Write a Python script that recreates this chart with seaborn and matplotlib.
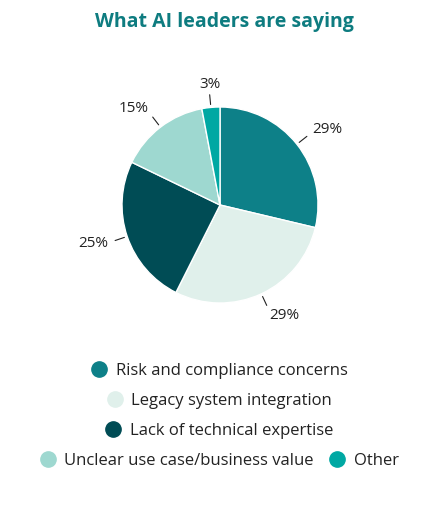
import matplotlib
matplotlib.use("Agg")
import matplotlib.pyplot as plt
import seaborn as sns
import numpy as np
from matplotlib.lines import Line2D

sns.set_theme(style="white")
plt.rcParams['font.family'] = ['Open Sans', 'DejaVu Sans']

categories = ["Risk and compliance concerns", "Legacy system integration",
              "Lack of technical expertise", "Unclear use case/business value", "Other"]
values = [29, 29, 25, 15, 3]
labels = ["29%", "29%", "25%", "15%", "3%"]
colors = ["#0d8088", "#e0f0eb", "#004c55", "#9ed8d0", "#00a8a3"]

fig = plt.figure(figsize=(4.24, 5.17), dpi=100)
fig.text(0.53, 1 - 22/517, "What AI leaders are saying", ha="center", va="center",
         fontsize=14, fontweight="bold", color="#0e7c80")

cx, cy, r = 220/424, 1 - 205/517, 98
ax = fig.add_axes([cx - r/424, cy - r/517, 2*r/424, 2*r/517])
wedges, _ = ax.pie(values, colors=colors, startangle=90, counterclock=False,
                   wedgeprops=dict(edgecolor="white", linewidth=1))
ax.set_xlim(-1, 1); ax.set_ylim(-1, 1); ax.set_aspect("equal"); ax.axis("off")

for w, lab in zip(wedges, labels):
    ang = np.deg2rad((w.theta1 + w.theta2) / 2)
    x, y = np.cos(ang), np.sin(ang)
    ax.plot([1.03*x, 1.13*x], [1.03*y, 1.13*y], color="#222222", lw=0.8, clip_on=False)
    ax.text(1.2*x if abs(x) > 0.2 else 1.12*x, 1.24*y, lab,
            ha="left" if x > 0.2 else ("right" if x < -0.2 else "center"),
            va="center", fontsize=11, color="#222222")

def row(items, y):
    handles = [Line2D([], [], marker="o", ls="", markersize=11,
                      markerfacecolor=colors[i], markeredgecolor=colors[i]) for i in items]
    fig.legend(handles, [categories[i] for i in items], loc="center",
               bbox_to_anchor=(0.515, 1 - y/517), ncol=len(items), frameon=False,
               fontsize=12, handletextpad=0.4, columnspacing=0.8, handlelength=1.2,
               labelcolor="#222222")

for items, y in [([0], 371), ([1], 401), ([2], 431), ([3, 4], 461)]:
    row(items, y)

fig.savefig("out.png", dpi=100, facecolor="white")
